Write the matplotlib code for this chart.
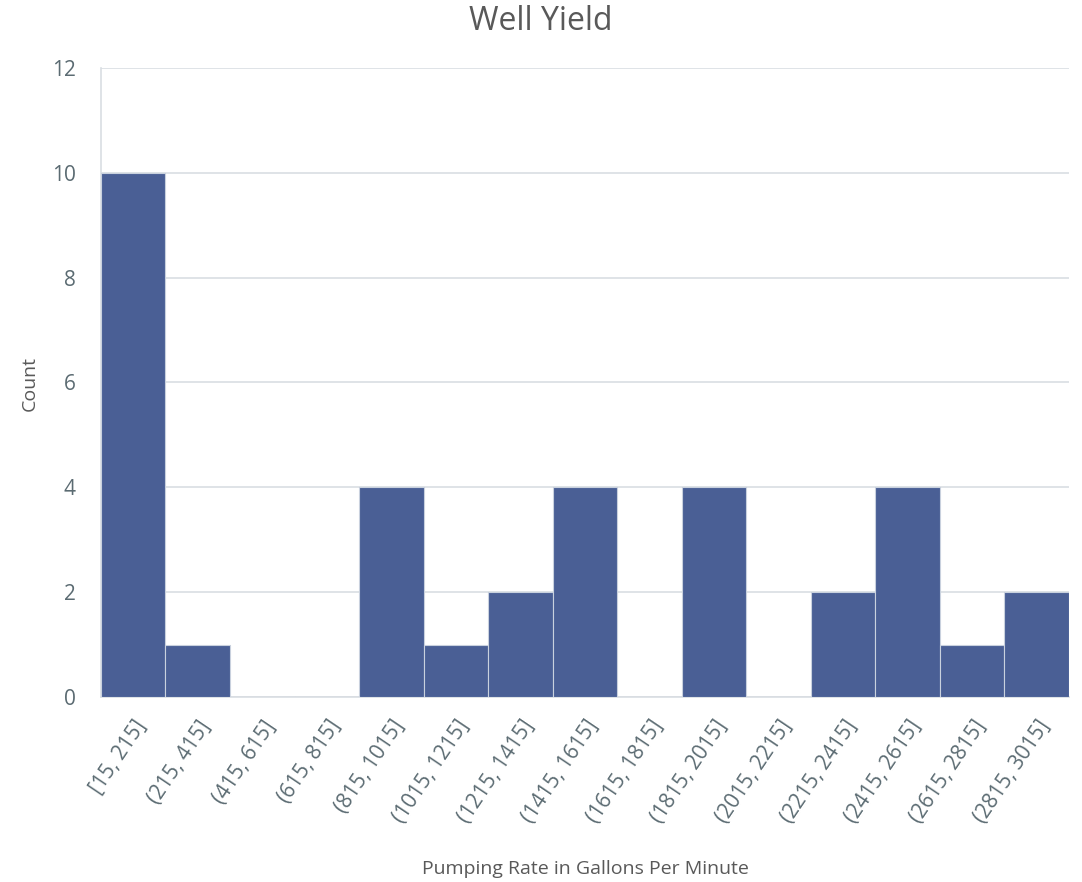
import matplotlib.pyplot as plt
import numpy as np

plt.rcParams['font.family'] = ['Open Sans', 'DejaVu Sans']

# histogram bins and counts
bins = ["[15, 215]", "(215, 415]", "(415, 615]", "(615, 815]", "(815, 1015]",
        "(1015, 1215]", "(1215, 1415]", "(1415, 1615]", "(1615, 1815]",
        "(1815, 2015]", "(2015, 2215]", "(2215, 2415]", "(2415, 2615]",
        "(2615, 2815]", "(2815, 3015]"]
counts = [10, 1, 0, 0, 4, 1, 2, 4, 0, 4, 0, 2, 4, 1, 2]
y_ticks = [0, 2, 4, 6, 8, 10, 12]

txt = '#5b6b72'

fig = plt.figure(figsize=(10.82, 8.82), dpi=100)
ax = fig.add_axes([0.0933, 0.2098, 0.8947, 0.7131])

x = np.arange(len(bins))
ax.bar(x, counts, width=1.0, align='edge', color='#4a5f95',
       edgecolor='#c9d1de', linewidth=0.8, zorder=3)

ax.set_xlim(0, len(bins))
ax.set_ylim(0, 12)
ax.set_yticks(y_ticks)
ax.yaxis.grid(True, color='#d9dee3', linewidth=1.2, zorder=0)

for s in ['top', 'right']:
    ax.spines[s].set_visible(False)
ax.spines['left'].set_color('#d9dee3')
ax.spines['bottom'].set_color('#d9dee3')
ax.spines['left'].set_linewidth(1.2)
ax.spines['bottom'].set_linewidth(1.2)

ax.set_xticks(x + 0.5)
ax.set_xticklabels(bins, rotation=56, ha='right', rotation_mode='anchor',
                   fontsize=15, color=txt)
ax.tick_params(axis='x', length=0, pad=14)
ax.tick_params(axis='y', length=0, pad=18, labelsize=15, labelcolor=txt)

fig.text(0.5, 1 - 22 / 882, 'Well Yield', fontsize=23, color='#595959',
         ha='center', va='center')
fig.text(30 / 1082, 1 - 383 / 882, 'Count', fontsize=14, color='#595959',
         rotation=90, ha='center', va='center')
fig.text(585 / 1082, 1 - 869 / 882, 'Pumping Rate in Gallons Per Minute',
         fontsize=14, color='#595959', ha='center', va='center')

fig.savefig('out.png', dpi=100)
